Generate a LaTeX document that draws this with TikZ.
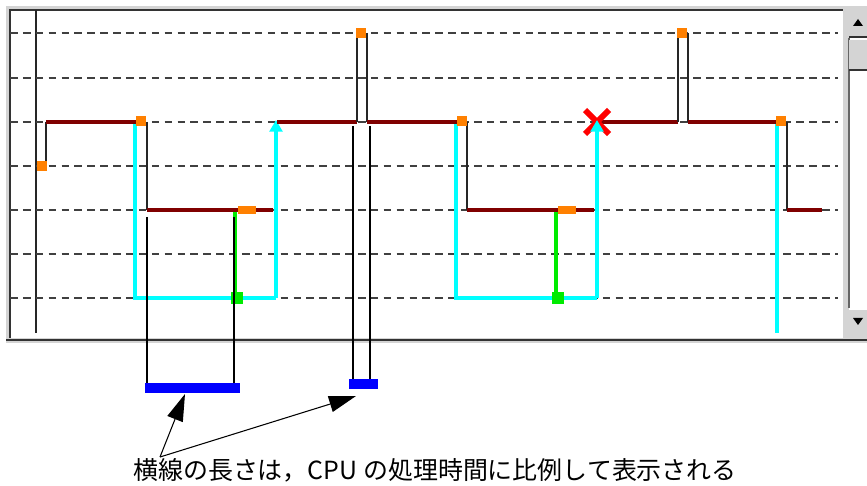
\documentclass[tikz,border=0pt]{standalone}
\usepackage{fontspec}
\newfontfamily\jpfont{Noto Sans CJK JP}
\usetikzlibrary{arrows.meta}

\definecolor{TraceRed}{RGB}{128, 0, 0}
\definecolor{EventOrange}{RGB}{255, 128, 0}
\definecolor{WaitCyan}{RGB}{0, 255, 255}
\definecolor{ReplyGreen}{RGB}{0, 235, 0}
\definecolor{BarBlue}{RGB}{0, 0, 255}
\definecolor{PanelGray}{RGB}{212, 212, 212}

\begin{document}
\begin{tikzpicture}[
        x=0.03cm, y=-0.03cm,
        level/.style={black!75, line width=1.5pt, dash pattern=on 6.5pt off 4.5pt},
        trace/.style={TraceRed, line width=3.4pt},
        jump/.style={black!85, line width=1.7pt},
        wait/.style={WaitCyan, line width=3.8pt},
        wake/.style={-{Triangle[width=11pt,length=10pt]}, WaitCyan, line width=3.8pt},
        reply/.style={ReplyGreen, line width=3.2pt},
        evt/.style={fill=EventOrange, inner sep=0pt, minimum width=8.5pt, minimum height=8pt},
        wideevt/.style={evt, minimum width=16pt, minimum height=6.5pt},
        recv/.style={fill=ReplyGreen, inner sep=0pt, minimum size=10pt},
        lead/.style={black, line width=2pt},
        bar/.style={fill=BarBlue, inner sep=0pt},
        pointer/.style={-{Triangle[width=14pt,length=23pt]}, black, line width=0.9pt}
    ]
        \useasboundingbox (0,0) rectangle (867,486);

        % window frame and scroll bar
        \fill[PanelGray] (6,6) rectangle (867,343);
        \fill[white] (10,10) rectangle (843,338);
        \draw[black!80, line width=2pt] (10,338) -- (10,10) -- (843,10);
        \draw[black!80, line width=2pt] (6,340) -- (867,340);
        \draw[black!85, line width=1.6pt] (36,10) -- (36,333);
        \fill[white] (849,38) rectangle (867,310);
        \draw[black!60, line width=1.5pt] (849,38) -- (849,308);
        \node[fill=PanelGray, inner sep=0pt, minimum width=15pt, minimum height=22pt] (up) at (858,23) {};
        \draw[black!80, line width=1.5pt] (849,37) -- (867,37);
        \node[fill=PanelGray, inner sep=0pt, minimum width=15pt, minimum height=25pt] (thumb) at (858,55) {};
        \draw[black!80, line width=1.5pt] (849,70) -- (867,70);
        \node[fill=PanelGray, inner sep=0pt, minimum width=15pt, minimum height=20pt] (down) at (858,322) {};
        \fill[black] (853,26) -- (863,26) -- (858,19) -- cycle;
        \fill[black] (853,318) -- (863,318) -- (858,325) -- cycle;

        % levels
        \foreach \y in {33,78,122,166,210,254,298}
            \draw[level] (10,\y) -- (838,\y);

        % waiting periods
        \draw[wait] (135,122) -- (135,298) -- (276,298);
        \draw[wake] (276,298) -- (276,120);
        \draw[wait] (456,122) -- (456,298) -- (597,298);
        \draw[wait] (777,122) -- (777,333);

        % replies
        \draw[reply] (235,210) -- (235,298);
        \draw[reply] (556,210) -- (556,298);
        \node[recv] (r1) at (237,298) {};
        \node[recv] (r2) at (558,298) {};

        % trace
        \draw[jump] (46,166) -- (46,122);
        \draw[trace] (46,122) -- (140,122);
        \draw[jump] (147,122) -- (147,210);
        \draw[trace] (147,210) -- (273,210);
        \draw[trace] (277,122) -- (357,122);
        \draw[jump] (357,122) -- (357,33);
        \draw[jump] (367,33) -- (367,122);
        \draw[trace] (367,122) -- (460,122);
        \draw[jump] (467,122) -- (467,210);
        \draw[trace] (467,210) -- (594,210);
        \draw[trace] (597,122) -- (678,122);
        \draw[jump] (678,122) -- (678,33);
        \draw[jump] (688,33) -- (688,122);
        \draw[trace] (688,122) -- (777,122);
        \draw[jump] (787,122) -- (787,210);
        \draw[trace] (787,210) -- (822,210);

        % events
        \node[evt] (e1) at (42,166) {};
        \node[evt] (e2) at (141,121) {};
        \node[wideevt] (e3) at (247,210) {};
        \node[evt] (e4) at (361,33) {};
        \node[evt] (e5) at (462,121) {};
        \node[wideevt] (e6) at (567,210) {};
        \node[evt] (e7) at (682,33) {};
        \node[evt] (e8) at (781,121) {};
        \draw[red, line width=5pt] (585,110) -- (609,134) (585,134) -- (609,110);
        \draw[wake] (597,298) -- (597,120);

        % CPU time bars
        \node[bar, minimum width=80.5pt, minimum height=8.5pt] (b1) at (192.5,388) {};
        \node[bar, minimum width=24.5pt, minimum height=8.5pt] (b2) at (363.5,384) {};
        \coordinate (l1) at (147,217);
        \coordinate (l2) at (234,217);
        \coordinate (l3) at (353,126);
        \coordinate (l4) at (370,126);
        \draw[lead] (l1) -- (l1 |- b1.north);
        \draw[lead] (l2) -- (l2 |- b1.north);
        \draw[lead] (l3) -- (l3 |- b2.north);
        \draw[lead] (l4) -- (l4 |- b2.north);

        % note
        \node[font=\jpfont\fontsize{21.3pt}{25pt}\selectfont, inner sep=0pt] (note) at (435,470)
            {横線の長さは，CPU の処理時間に比例して表示される};
        \coordinate (from) at (160,457);
        \draw[pointer] (from) -- (185,394);
        \draw[pointer] (from) -- (356,396);
    \end{tikzpicture}
\end{document}
